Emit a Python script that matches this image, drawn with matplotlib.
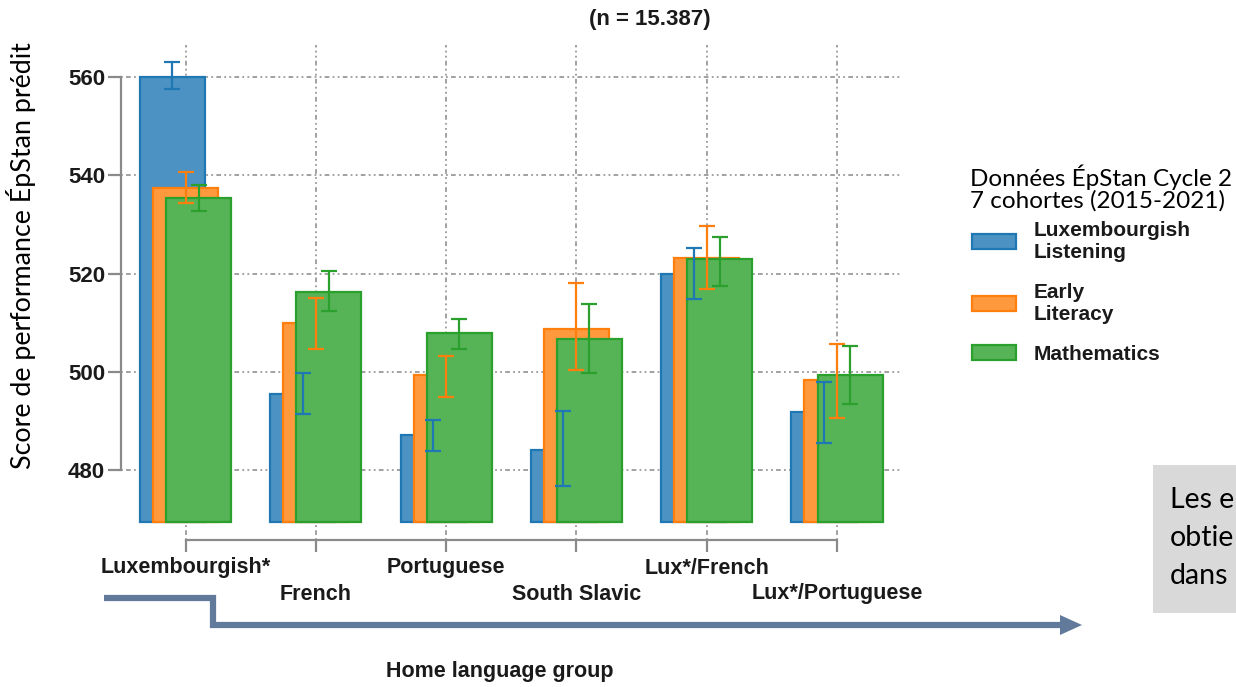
#!/usr/bin/env python3
"""Predicted EpStan scores by home language group, three domains, with CIs."""
import matplotlib
matplotlib.use("Agg")
import matplotlib.pyplot as plt
import matplotlib.transforms as mtrans
from matplotlib.colors import to_rgb
from matplotlib.lines import Line2D
from matplotlib.patches import Polygon, Rectangle
import numpy as np

# ── data ──────────────────────────────────────────────────────────────────
groups = ["Luxembourgish*", "French", "Portuguese", "South Slavic",
          "Lux*/French", "Lux*/Portuguese"]
series = ["Luxembourgish\nListening", "Early\nLiteracy", "Mathematics"]

listening    = [560.0, 495.4, 487.1, 484.2, 520.0, 491.8]
listening_lo = [557.6, 491.4, 484.0, 476.8, 514.8, 485.5]
listening_hi = [563.1, 499.8, 490.2, 492.1, 525.2, 497.9]

literacy     = [537.4, 509.9, 499.3, 508.8, 523.2, 498.4]
literacy_lo  = [534.3, 504.7, 494.8, 500.3, 516.8, 490.7]
literacy_hi  = [540.6, 515.0, 503.2, 518.1, 529.6, 505.7]

maths        = [535.4, 516.3, 508.0, 506.6, 522.9, 499.3]
maths_lo     = [532.8, 512.3, 504.7, 499.8, 517.5, 493.4]
maths_hi     = [538.0, 520.5, 510.8, 513.8, 527.4, 505.2]

base = 469.5
y_ticks = [480, 500, 520, 540, 560]

colors = ["#1f77b4", "#ff7f0e", "#2ca02c"]
arrow_col = "#617a9b"
W, H = 1236, 687


def lighten(c, a=0.8):
    """Opaque version of colour c drawn at alpha a on white."""
    return tuple(a * np.array(to_rgb(c)) + (1 - a))


plt.rcParams["font.family"] = ["Liberation Sans", "DejaVu Sans"]
soft = ["Lato", "DejaVu Sans"]

fig = plt.figure(figsize=(W / 100, H / 100), dpi=100)
ax = fig.add_axes([121 / W, 1 - 540 / H, (900 - 121) / W, (540 - 45) / H])

x = np.arange(len(groups))
vals = [listening, literacy, maths]
los = [listening_lo, literacy_lo, maths_lo]
his = [listening_hi, literacy_hi, maths_hi]
offsets = [-0.1, 0.0, 0.1]

handles = []
for v, c, off, lab in zip(vals, colors, offsets, series):
    v = np.asarray(v)
    b = ax.bar(x + off, v - base, bottom=base, width=0.5,
               facecolor=lighten(c), edgecolor=c, linewidth=1.6,
               label=lab, zorder=2)
    handles.append(b)

for v, lo, hi, c, off in zip(vals, los, his, colors, offsets):
    v, lo, hi = np.asarray(v), np.asarray(lo), np.asarray(hi)
    ax.errorbar(x + off, v, yerr=[v - lo, hi - v], fmt="none", ecolor=c,
                elinewidth=1.6, capsize=6, capthick=1.6, zorder=3)

ax.set_xlim(-0.495, 5.483)
ax.set_ylim(465.8, 566.5)
ax.set_axisbelow(True)
ax.grid(True, color="#9a9a9a",
        linestyle=(0, (1, 1.8, 2.6, 1.8, 1, 1.8)), linewidth=1.3)

for s in ("top", "right"):
    ax.spines[s].set_visible(False)
ax.spines["left"].set_bounds(480, 560)
ax.spines["bottom"].set_bounds(0, 5)
for s in ("left", "bottom"):
    ax.spines[s].set_color("#8a8a8a")
    ax.spines[s].set_linewidth(1.6)

ax.set_yticks(y_ticks)
ax.set_xticks(x)
ax.set_xticklabels(groups)
ax.tick_params(axis="both", color="#8a8a8a", width=1.6, labelcolor="#1a1a1a")
ax.tick_params(axis="y", length=9.5, pad=2, labelsize=16)
ax.tick_params(axis="x", length=8.6, pad=4, labelsize=15.5)
for lbl in ax.get_yticklabels() + ax.get_xticklabels():
    lbl.set_fontweight("bold")
shift = mtrans.ScaledTranslation(0, -26 / 100, fig.dpi_scale_trans)
for lbl in ax.get_xticklabels()[1::2]:
    lbl.set_transform(lbl.get_transform() + shift)

fig.text(650 / W, 1 - 20 / H, "(n = 15.387)", ha="center", va="center",
         fontsize=16, fontweight="bold", color="#1a1a1a")
fig.text(500 / W, 1 - 672 / H, "Home language group", ha="center",
         va="center", fontsize=15.5, fontweight="bold", color="#1a1a1a")
fig.text(21 / W, 1 - 256 / H, "Score de performance ÉpStan prédit",
         rotation=90, ha="center", va="center", fontsize=19.3, family=soft)

# legend block on the right
fig.text(970 / W, 1 - 188 / H, "Données ÉpStan Cycle 2\n7 cohortes (2015-2021)",
         ha="left", va="center", fontsize=17.5, linespacing=1.05, family=soft)
leg = ax.legend(handles=handles, loc="upper left",
                bbox_to_anchor=(972 / W, 1 - 221 / H),
                bbox_transform=fig.transFigure, frameon=False,
                prop={"size": 15, "weight": "bold"}, handlelength=2.1,
                handleheight=0.7, handletextpad=0.85, labelspacing=1.0,
                borderpad=0, borderaxespad=0)
for t in leg.get_texts():
    t.set_color("#1a1a1a")

# grey note box, cut off by the figure edge as in the source
fig.add_artist(Rectangle((1153 / W, 1 - 613 / H), 200 / W, 148 / H,
                         transform=fig.transFigure, facecolor="#d9d9d9",
                         edgecolor="none"))
fig.text(1170 / W, 1 - 538 / H, "Les e\nobtie\ndans",
         ha="left", va="center", fontsize=20.5, linespacing=1.55, family=soft)

# stepped arrow under the axis
px = [104, 213, 213, 1062]
py = [598, 598, 625, 625]
fig.add_artist(Line2D([p / W for p in px], [1 - p / H for p in py],
                      transform=fig.transFigure, color=arrow_col,
                      linewidth=4.5, solid_joinstyle="miter",
                      solid_capstyle="butt"))
head = [(1060, 615), (1082, 625), (1060, 635)]
fig.add_artist(Polygon([(a / W, 1 - b / H) for a, b in head], closed=True,
                       transform=fig.transFigure, facecolor=arrow_col,
                       edgecolor="none"))

fig.savefig("out.png", dpi=100)
